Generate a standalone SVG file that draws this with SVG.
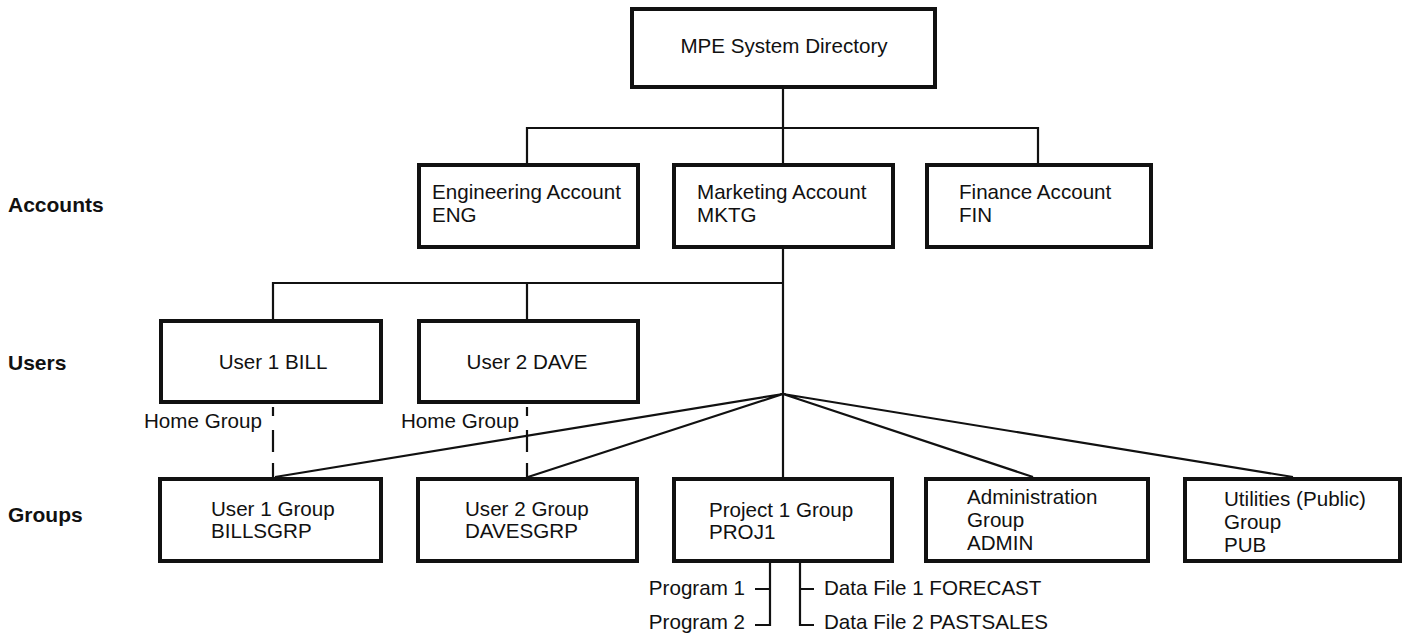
<svg xmlns="http://www.w3.org/2000/svg" width="1405" height="636" viewBox="0 0 1405 636">
<style>
.box{fill:#fff;stroke:#111;stroke-width:4}
.ln{fill:none;stroke:#111;stroke-width:2.2}
.t{font-family:"Liberation Sans",Arial,sans-serif;font-size:20.6px;fill:#111}
.lab{font-family:"Liberation Sans",Arial,sans-serif;font-size:21px;font-weight:bold;fill:#111}
.c{text-anchor:middle}
.e{text-anchor:end}
</style>
<rect width="1405" height="636" fill="#fff"/>
<g id="connectors">
<path class="ln" d="M783 89V163M527 163V128H1038V163M783 249V477"/>
<path class="ln" d="M273 319V283H783M527 283V319"/>
<path class="ln" d="M783 394L275 477M783 394L528 477M783 394L1033 477M783 394L1293 477"/>
<path class="ln" d="M273 407V416M273 430V452M273 463V477M527 407V416M527 430V452M527 463V477"/>
<path class="ln" d="M770 563V625H755M770 589H755M800 563V625H814M800 589H814"/>
</g>
<g id="labels">
<text class="lab" x="8" y="212">Accounts</text>
<text class="lab" x="8" y="370">Users</text>
<text class="lab" x="8" y="522">Groups</text>
</g>
<g id="mpe"><rect class="box" x="632" y="9" width="303" height="78"/><text class="t c" x="784" y="53">MPE System Directory</text></g>
<g id="eng"><rect class="box" x="419" y="165" width="219" height="82"/><text class="t" x="432" y="199">Engineering Account</text><text class="t" x="432" y="222">ENG</text></g>
<g id="mktg"><rect class="box" x="674" y="165" width="219" height="82"/><text class="t" x="697" y="199">Marketing Account</text><text class="t" x="697" y="222">MKTG</text></g>
<g id="fin"><rect class="box" x="927" y="165" width="224" height="82"/><text class="t" x="959" y="199">Finance Account</text><text class="t" x="959" y="222">FIN</text></g>
<g id="user1"><rect class="box" x="161" y="321" width="220" height="81"/><text class="t c" x="273" y="369">User 1 BILL</text></g>
<g id="user2"><rect class="box" x="419" y="321" width="219" height="81"/><text class="t c" x="527" y="369">User 2 DAVE</text></g>
<g id="home1"><text class="t" x="144" y="428">Home Group</text></g>
<g id="home2"><text class="t" x="401" y="428">Home Group</text></g>
<g id="ug1"><rect class="box" x="160" y="479" width="221" height="82"/><text class="t" x="211" y="516">User 1 Group</text><text class="t" x="211" y="538">BILLSGRP</text></g>
<g id="ug2"><rect class="box" x="418" y="479" width="219" height="82"/><text class="t" x="465" y="516">User 2 Group</text><text class="t" x="465" y="538">DAVESGRP</text></g>
<g id="proj"><rect class="box" x="674" y="479" width="218" height="82"/><text class="t" x="709" y="517">Project 1 Group</text><text class="t" x="709" y="539">PROJ1</text></g>
<g id="admin"><rect class="box" x="926" y="479" width="222" height="82"/><text class="t" x="967" y="504">Administration</text><text class="t" x="967" y="527">Group</text><text class="t" x="967" y="550">ADMIN</text></g>
<g id="pub"><rect class="box" x="1185" y="479" width="215" height="82"/><text class="t" x="1224" y="506">Utilities (Public)</text><text class="t" x="1224" y="529">Group</text><text class="t" x="1224" y="552">PUB</text></g>
<g id="files">
<text class="t e" x="745" y="595">Program 1</text>
<text class="t e" x="745" y="629">Program 2</text>
<text class="t" x="824" y="595">Data File 1 FORECAST</text>
<text class="t" x="824" y="629">Data File 2 PASTSALES</text>
</g>
</svg>
